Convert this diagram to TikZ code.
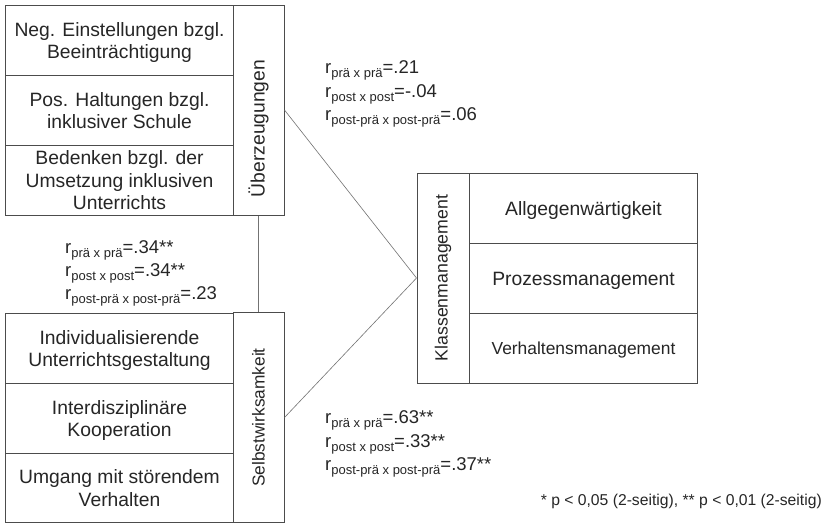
\documentclass[tikz,border=0pt]{standalone}
\usepackage{fontspec}
\setmainfont{Liberation Sans}
\newcommand{\rsub}[1]{r\raisebox{-4pt}{\fontsize{13}{15}\selectfont #1}}
\begin{document}
\begin{tikzpicture}[x=1pt,y=-1pt,
 itembox/.style={draw=black!70,line width=1pt,minimum width=228pt,minimum height=70pt,
   inner sep=0pt,text depth=-3pt,align=center,anchor=north west,text=black!85,
   font=\fontsize{19.3}{22.5}\selectfont},
 labelbox/.style={draw=black!70,line width=1pt,rotate=90,minimum width=210pt,minimum height=51pt,
   inner sep=0pt,text=black!85,font=\fontsize{19.3}{21}\selectfont},
 corr/.style={anchor=base west,inner sep=0pt,text=black!85,font=\fontsize{18.5}{22}\selectfont},
 link/.style={draw=black!55,line width=0.6pt}]
\fill[white] (0,0) rectangle (828,523);
\useasboundingbox (0,0) rectangle (828,523);
% Ueberzeugungen
\node[itembox] (neg) at (5,5) {Neg. Einstellungen bzgl.\\Beeinträchtigung};
\node[itembox] (pos) at (5,75) {Pos. Haltungen bzgl.\\inklusiver Schule};
\node[itembox] (bed) at (5,145) {Bedenken bzgl. der\\Umsetzung inklusiven\\Unterrichts};
\node[labelbox] (ueber) at (258.5,110) {Überzeugungen\hspace*{37pt}};
% Selbstwirksamkeit
\node[itembox] (indiv) at (5,313) {Individualisierende\\Unterrichtsgestaltung};
\node[itembox,minimum height=69.5pt] (inter) at (5,383) {Interdisziplinäre\\Kooperation};
\node[itembox,minimum height=69.5pt] (umg) at (5,452.5) {Umgang mit störendem\\Verhalten};
\node[labelbox,font=\fontsize{17.3}{20}\selectfont] (selbst) at (258.5,417.5) {Selbstwirksamkeit};
% Klassenmanagement
\node[itembox] (allg) at (469,173) {Allgegenwärtigkeit};
\node[itembox] (proz) at (469,243) {Prozessmanagement};
\node[itembox,font=\fontsize{17.4}{20}\selectfont] (verh) at (469,313) {Verhaltensmanagement};
\node[labelbox,minimum height=52pt,font=\fontsize{17.7}{20}\selectfont] (klass) at (443,278) {Klassenmanagement};
% Verbindungen
\draw[link] (ueber.south) -- (klass.north);
\draw[link] (selbst.south) -- (klass.north);
\draw[link] (ueber.west) -- (selbst.east);
% Korrelationen
\node[corr] (ru1) at (325,73) {\rsub{prä x prä}=.21};
\node[corr] (ru2) at (325,97) {\rsub{post x post}=-.04};
\node[corr] (ru3) at (325,120) {\rsub{post-prä x post-prä}=.06};
\node[corr] (rm1) at (65,253) {\rsub{prä x prä}=.34**};
\node[corr] (rm2) at (65,276) {\rsub{post x post}=.34**};
\node[corr] (rm3) at (65,299) {\rsub{post-prä x post-prä}=.23};
\node[corr] (rs1) at (325,423) {\rsub{prä x prä}=.63**};
\node[corr] (rs2) at (325,447) {\rsub{post x post}=.33**};
\node[corr] (rs3) at (325,470) {\rsub{post-prä x post-prä}=.37**};
\node[anchor=base east,inner sep=0pt,text=black!85,font=\fontsize{15.7}{18}\selectfont] (note) at (822,505)
  {* p < 0,05 (2-seitig), ** p < 0,01 (2-seitig)};
\end{tikzpicture}
\end{document}
